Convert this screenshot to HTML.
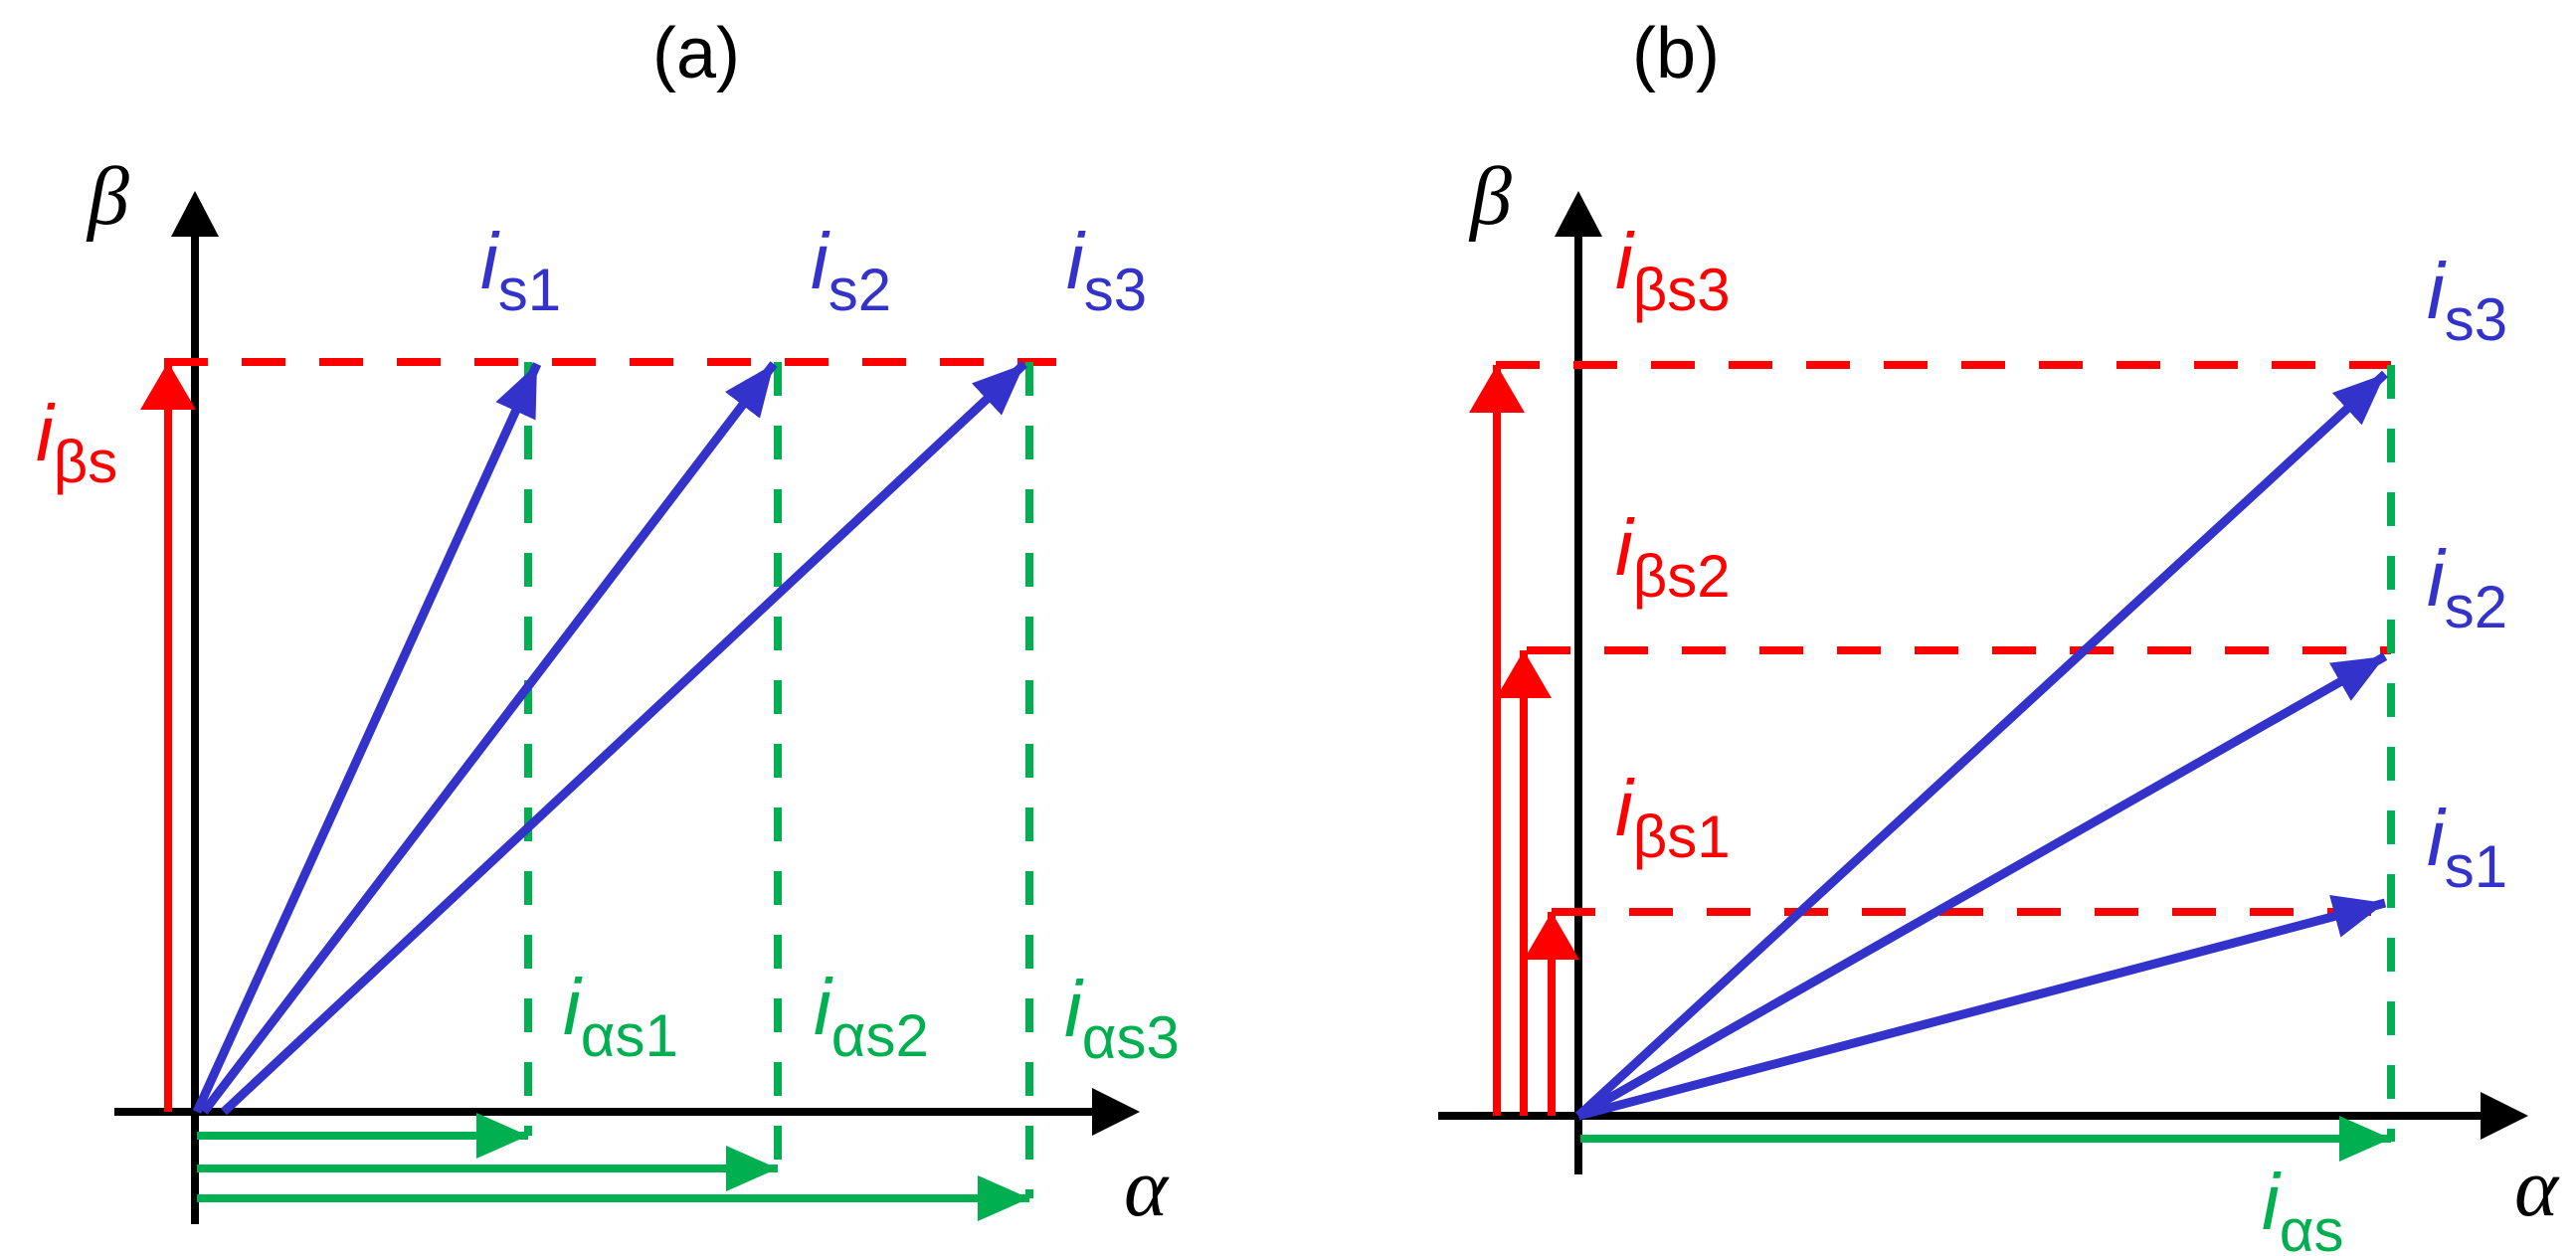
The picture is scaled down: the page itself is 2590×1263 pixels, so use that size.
<!DOCTYPE html>
<html><head><style>
html,body{margin:0;padding:0;background:#fff;}
svg{display:block;}
text{font-family:"Liberation Sans",sans-serif;}
.i{font-style:italic;}
.g{font-style:italic;font-family:"Liberation Serif",serif;}
</style></head><body>
<svg width="2590" height="1263" viewBox="0 0 2590 1263" xmlns="http://www.w3.org/2000/svg">
<defs>
<marker id="ab" markerWidth="52" markerHeight="44" refX="52" refY="22" orient="auto" markerUnits="userSpaceOnUse"><path d="M0,0 L52,22 L0,44z" fill="#3333cc"/></marker>
<marker id="ar" markerWidth="48" markerHeight="56" refX="48" refY="28" orient="auto" markerUnits="userSpaceOnUse"><path d="M0,0 L48,28 L0,56z" fill="#ff0000"/></marker>
<marker id="ag" markerWidth="52" markerHeight="46" refX="52" refY="23" orient="auto" markerUnits="userSpaceOnUse"><path d="M0,0 L52,23 L0,46z" fill="#00b050"/></marker>
</defs>

<text x="700" y="78" font-size="72" text-anchor="middle">(a)</text>
<text x="1685" y="78" font-size="72" text-anchor="middle">(b)</text>

<!-- Panel a -->
<g stroke-width="8" fill="none">
<line x1="115" y1="1118" x2="1105" y2="1118" stroke="#000"/>
<path d="M1098,1094 L1146,1118 L1098,1142z" fill="#000" stroke="none"/>
<line x1="196" y1="1231" x2="196" y2="230" stroke="#000"/>
<path d="M172,238 L196,192 L220,238z" fill="#000" stroke="none"/>
<line x1="165" y1="364" x2="1062" y2="364" stroke="#ff0000" stroke-dasharray="44,34"/>
<line x1="169" y1="1118" x2="169" y2="364" stroke="#ff0000" marker-end="url(#ar)"/>
<line x1="531" y1="364" x2="531" y2="1142" stroke="#00b050" stroke-dasharray="34,30"/>
<line x1="782" y1="364" x2="782" y2="1175" stroke="#00b050" stroke-dasharray="34,30"/>
<line x1="1035" y1="364" x2="1035" y2="1205" stroke="#00b050" stroke-dasharray="34,30"/>
<line x1="198" y1="1142" x2="531" y2="1142" stroke="#00b050" marker-end="url(#ag)"/>
<line x1="198" y1="1175" x2="782" y2="1175" stroke="#00b050" marker-end="url(#ag)"/>
<line x1="198" y1="1205" x2="1035" y2="1205" stroke="#00b050" marker-end="url(#ag)"/>
<line x1="198" y1="1118" x2="540" y2="366" stroke="#3333cc" stroke-width="9" marker-end="url(#ab)"/>
<line x1="205" y1="1118" x2="778" y2="366" stroke="#3333cc" stroke-width="9" marker-end="url(#ab)"/>
<line x1="225" y1="1118" x2="1030" y2="366" stroke="#3333cc" stroke-width="9" marker-end="url(#ab)"/>
</g>
<text x="88" y="225" font-size="84" class="g">β</text>
<text x="1130" y="1222" font-size="84" class="g">α</text>
<g fill="#3333cc" font-size="80"><text x="483" y="290"><tspan class="i">i</tspan><tspan font-size="60" dy="22">s1</tspan></text>
<text x="815" y="290"><tspan class="i">i</tspan><tspan font-size="60" dy="22">s2</tspan></text>
<text x="1072" y="290"><tspan class="i">i</tspan><tspan font-size="60" dy="22">s3</tspan></text></g>
<text x="36" y="463" font-size="80" fill="#ff0000"><tspan class="i">i</tspan><tspan font-size="60" dy="22">βs</tspan></text>
<g fill="#00b050" font-size="80"><text x="566" y="1040"><tspan class="i">i</tspan><tspan font-size="60" dy="22">αs1</tspan></text>
<text x="818" y="1040"><tspan class="i">i</tspan><tspan font-size="60" dy="22">αs2</tspan></text>
<text x="1070" y="1042"><tspan class="i">i</tspan><tspan font-size="60" dy="22">αs3</tspan></text></g>

<!-- Panel b -->
<g stroke-width="8" fill="none">
<line x1="1446" y1="1122" x2="2500" y2="1122" stroke="#000"/>
<path d="M2494,1098 L2542,1122 L2494,1146z" fill="#000" stroke="none"/>
<line x1="1587" y1="1181" x2="1587" y2="230" stroke="#000"/>
<path d="M1563,238 L1587,192 L1611,238z" fill="#000" stroke="none"/>
<line x1="1504" y1="367" x2="2404" y2="367" stroke="#ff0000" stroke-dasharray="44,34"/>
<line x1="1535" y1="654" x2="2404" y2="654" stroke="#ff0000" stroke-dasharray="44,34"/>
<line x1="1560" y1="917" x2="2404" y2="917" stroke="#ff0000" stroke-dasharray="44,34"/>
<line x1="1505" y1="1122" x2="1505" y2="367" stroke="#ff0000" marker-end="url(#ar)"/>
<line x1="1532" y1="1122" x2="1532" y2="654" stroke="#ff0000" marker-end="url(#ar)"/>
<line x1="1560" y1="1122" x2="1560" y2="917" stroke="#ff0000" marker-end="url(#ar)"/>
<line x1="2404" y1="367" x2="2404" y2="1148" stroke="#00b050" stroke-dasharray="34,30"/>
<line x1="1589" y1="1145" x2="2404" y2="1145" stroke="#00b050" marker-end="url(#ag)"/>
<line x1="1587" y1="1122" x2="2398" y2="376" stroke="#3333cc" stroke-width="9" marker-end="url(#ab)"/>
<line x1="1587" y1="1122" x2="2398" y2="660" stroke="#3333cc" stroke-width="9" marker-end="url(#ab)"/>
<line x1="1587" y1="1122" x2="2398" y2="908" stroke="#3333cc" stroke-width="9" marker-end="url(#ab)"/>
</g>
<text x="1478" y="225" font-size="84" class="g">β</text>
<text x="2528" y="1222" font-size="84" class="g">α</text>
<g fill="#ff0000" font-size="80"><text x="1624" y="290"><tspan class="i">i</tspan><tspan font-size="60" dy="22">βs3</tspan></text>
<text x="1624" y="578"><tspan class="i">i</tspan><tspan font-size="60" dy="22">βs2</tspan></text>
<text x="1624" y="840"><tspan class="i">i</tspan><tspan font-size="60" dy="22">βs1</tspan></text></g>
<g fill="#3333cc" font-size="80"><text x="2440" y="320"><tspan class="i">i</tspan><tspan font-size="60" dy="22">s3</tspan></text>
<text x="2440" y="609"><tspan class="i">i</tspan><tspan font-size="60" dy="22">s2</tspan></text>
<text x="2440" y="870"><tspan class="i">i</tspan><tspan font-size="60" dy="22">s1</tspan></text></g>
<text x="2274" y="1236" font-size="80" fill="#00b050"><tspan class="i">i</tspan><tspan font-size="60" dy="22">αs</tspan></text>
</svg>
</body></html>
